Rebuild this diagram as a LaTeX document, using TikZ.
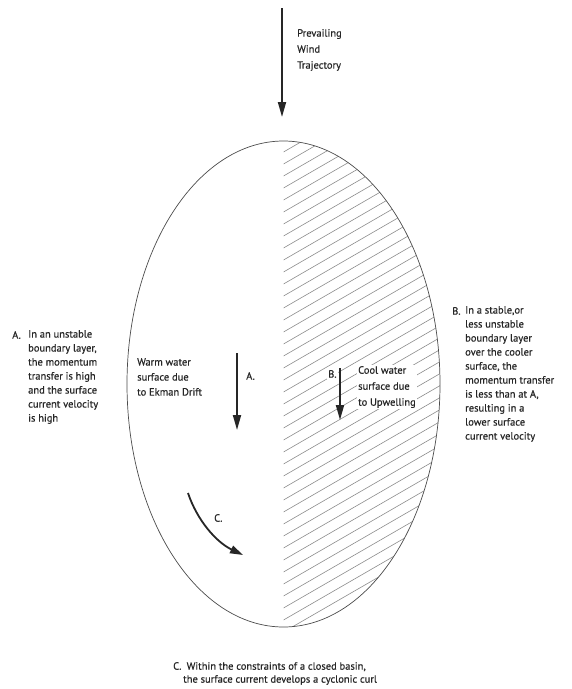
\documentclass[tikz,border=0pt]{standalone}
\usepackage{fontspec}
\setmainfont{PT Sans}
\newfontfamily\labfont{PT Sans}[FakeBold=0.5]
\usetikzlibrary{arrows.meta}
\begin{document}
\begin{tikzpicture}[x=1pt,y=-1pt,
  lbl/.style={inner sep=0pt, anchor=north west, align=left, font=\labfont\fontsize{10.5}{14}\selectfont, text=black!85},
  tag/.style={inner sep=0pt, anchor=north west, font=\labfont\fontsize{10.5}{14}\selectfont, text=black!85},
  bigarrow/.style={line width=1.8pt, draw=black!85, -{Triangle[length=15pt,width=8pt]}},
  hatchline/.style={draw=black!45, line width=0.6pt},
  basin/.style={draw=black!70, line width=0.7pt}]
\useasboundingbox (0,0) rectangle (572,689);
\fill[white] (0,0) rectangle (572,689);
% hatched eastern half
\begin{scope}
  \clip (283.5,384) ellipse [x radius=156.5pt, y radius=243pt];
  \clip (283.5,130) rectangle (450,640);
  \foreach \k in {0,...,51} \draw[hatchline] (283.5,{140+12*\k}) -- ++(200,-115.5);
\end{scope}
\draw[basin] (283.5,384) ellipse [x radius=156.5pt, y radius=243pt];
% wind
\coordinate (w1) at (282,8);
\coordinate (w2) at (282,117);
\draw[bigarrow] (w1) -- (w2);
\node[lbl, font=\labfont\fontsize{10.5}{16}\selectfont] (wind) at (297,29) {Prevailing\\Wind\\Trajectory};
% A
\node[tag] (Atag) at (12,331) {A.};
\node[lbl] (Atext) at (28,330) {In an unstable\\boundary layer,\\the momentum\\transfer is high\\and the surface\\current velocity\\is high};
% B
\node[tag] (Btag) at (452,307) {B.};
\node[lbl] (Btext) at (465,306) {In a stable,or\\less unstable\\boundary layer\\over the cooler\\surface, the\\momentum transfer\\is less than at A,\\resulting in a\\lower surface\\current velocity};
% warm water
\node[lbl, font=\labfont\fontsize{10.5}{15}\selectfont] (warm) at (137,358) {Warm water\\surface due\\to Ekman Drift};
\coordinate (a1) at (237,353);
\coordinate (a2) at (237,430);
\draw[bigarrow] (a1) -- (a2);
\node[tag] (Alab) at (246,372) {A.};
% cool water
\node[lbl, font=\labfont\fontsize{10.5}{16}\selectfont, fill=white, inner sep=1pt] (cool) at (357,365) {Cool water\\surface due\\to Upwelling};
\coordinate (b1) at (340,368);
\coordinate (b2) at (340,420);
\node[tag, fill=white, inner sep=1pt] (Blab) at (327,369) {B.};
\draw[bigarrow] (b1) -- (b2);
% C
\coordinate (c1) at (188,493);
\coordinate (c2) at (243,555);
\draw[bigarrow, -{Triangle[length=13pt,width=8pt]}] (c1) .. controls (197,520) and (216,542) .. (c2);
\node[tag] (Clab) at (214,514) {C.};
% bottom note
\node[tag] (note1) at (173,662) {C.\enspace Within the constraints of a closed basin,};
\node[tag] (note2) at (183,675) {the surface current develops a cyclonic curl};
\end{tikzpicture}
\end{document}
